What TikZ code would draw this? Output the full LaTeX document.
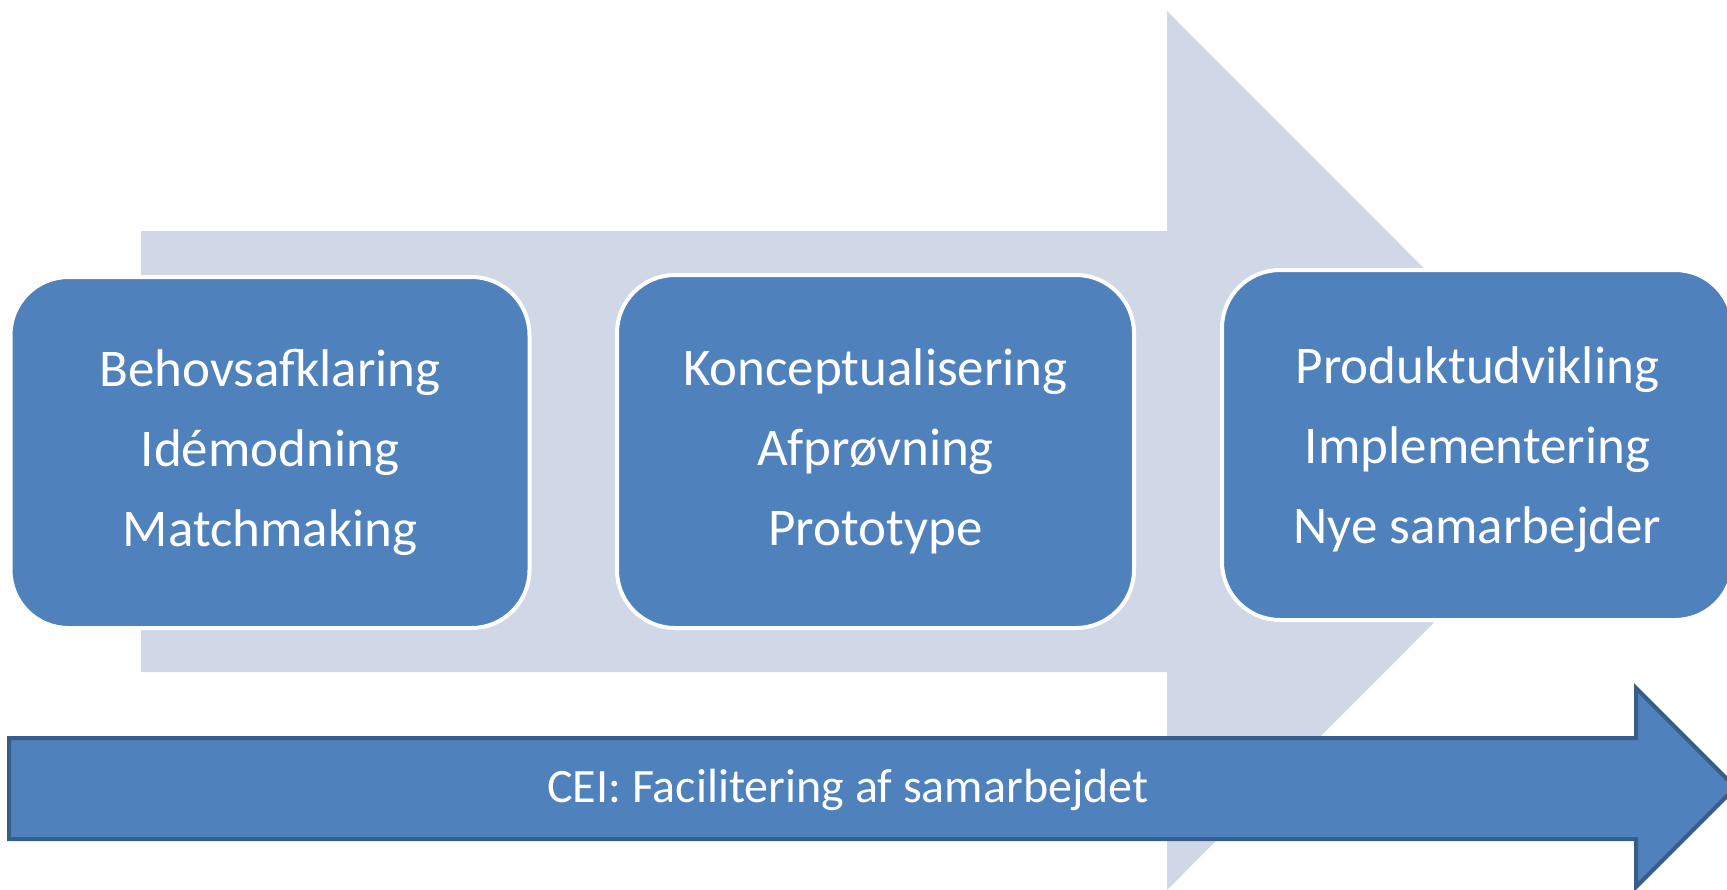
\documentclass[tikz,border=0pt]{standalone}
\usepackage{fontspec}
\setmainfont{Carlito}
\definecolor{lightband}{HTML}{D0D8E8}
\definecolor{accent}{HTML}{4F81BD}
\definecolor{edgeblue}{HTML}{385D8A}
\begin{document}
\begin{tikzpicture}[x=1pt,y=-1pt,
  stage/.style={draw=white, line width=4pt, fill=accent, rounded corners=58pt,
    text=white, align=center, font=\fontsize{53}{80}\selectfont, inner sep=0pt},
  bandtext/.style={text=white, font=\fontsize{48}{56}\selectfont, inner sep=0pt}]
\clip (0,0) rectangle (1727,889);
% big light process arrow
\fill[lightband] (141,231) -- (1167,231) -- (1167,11) -- (1606,450.5) -- (1167,890) -- (1167,672) -- (141,672) -- cycle;
% stage boxes
\node[stage, minimum width=519pt, minimum height=351pt] (s1) at (270,452.5) {Behovsafklaring\\Idémodning\\Matchmaking};
\node[stage, minimum width=517pt, minimum height=353pt] (s2) at (875.5,451.5) {Konceptualisering\\Afprøvning\\Prototype};
\node[stage, minimum width=511pt, minimum height=350pt] (s3) at (1477.5,445) {\rule{0pt}{46pt}Produktudvikling\\Implementering\\Nye samarbejder};
% facilitation arrow
\filldraw[fill=accent, draw=edgeblue, line width=4pt, line join=miter]
  (9,738) -- (1636,738) -- (1636,688) -- (1735.5,787.5) -- (1636,887) -- (1636,839) -- (9,839) -- cycle;
\node[bandtext] (cei) at (848,790) {CEI: Facilitering af samarbejdet};
\end{tikzpicture}
\end{document}
